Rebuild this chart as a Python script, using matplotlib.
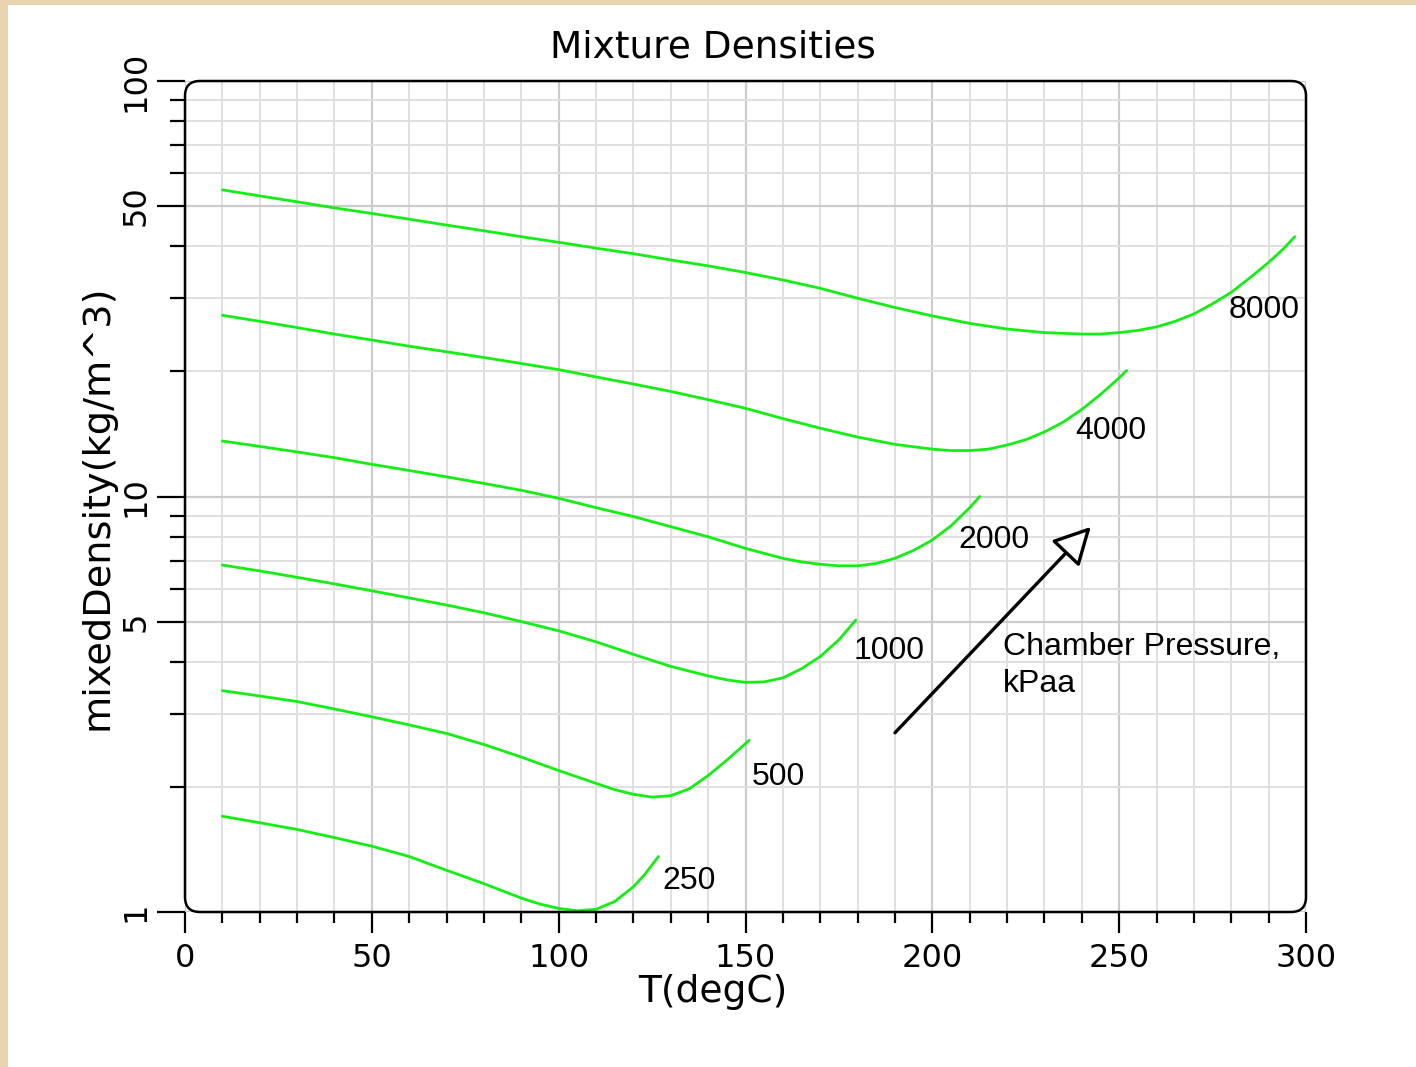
import matplotlib
matplotlib.use("Agg")
import matplotlib.pyplot as plt
from matplotlib.patches import FancyBboxPatch, Rectangle
from matplotlib.ticker import FixedLocator, NullFormatter, FixedFormatter

# ---- data ----
x_8000 = [10, 20, 30, 40, 50, 60, 70, 80, 90, 100, 110, 120, 130, 140, 150, 160, 170, 180, 190, 200,
          210, 220, 230, 240, 245, 250, 255, 260, 265, 270, 275, 280, 285, 290, 294, 297]
y_8000 = [54.7, 52.9, 51.2, 49.5, 48.0, 46.5, 45.0, 43.6, 42.2, 40.9, 39.6, 38.4, 37.1, 35.9, 34.6,
          33.2, 31.7, 30.0, 28.5, 27.2, 26.1, 25.3, 24.8, 24.6, 24.6, 24.8, 25.1, 25.6, 26.4, 27.5,
          29.1, 31.0, 33.6, 36.6, 39.5, 42.2]

x_4000 = [10, 20, 30, 40, 50, 60, 70, 80, 90, 100, 110, 120, 130, 140, 150, 160, 170, 180, 190, 200,
          205, 210, 215, 220, 225, 230, 235, 240, 245, 250, 252]
y_4000 = [27.3, 26.4, 25.5, 24.6, 23.8, 23.0, 22.3, 21.6, 20.9, 20.2, 19.4, 18.65, 17.9, 17.1, 16.3,
          15.4, 14.6, 13.9, 13.35, 13.0, 12.9, 12.9, 13.0, 13.3, 13.7, 14.3, 15.1, 16.2, 17.6, 19.3, 20.1]

x_2000 = [10, 20, 30, 40, 50, 60, 70, 80, 90, 100, 110, 120, 130, 140, 150, 160, 165, 170, 175, 180,
          185, 190, 195, 200, 205, 210, 212.7]
y_2000 = [13.6, 13.2, 12.8, 12.4, 11.95, 11.55, 11.15, 10.75, 10.35, 9.9, 9.4, 8.95, 8.46, 8.0, 7.5,
          7.1, 6.96, 6.87, 6.81, 6.81, 6.9, 7.1, 7.42, 7.86, 8.5, 9.4, 10.0]

x_1000 = [10, 20, 30, 40, 50, 60, 70, 80, 90, 100, 110, 120, 130, 140, 145, 150, 155, 160, 165, 170,
          175, 179.5]
y_1000 = [6.84, 6.62, 6.39, 6.16, 5.93, 5.70, 5.48, 5.25, 5.0, 4.75, 4.47, 4.17, 3.9, 3.70, 3.62,
          3.57, 3.58, 3.66, 3.85, 4.12, 4.52, 5.04]

x_500 = [10, 20, 30, 40, 50, 60, 70, 80, 90, 100, 110, 115, 120, 125, 130, 135, 140, 145, 151]
y_500 = [3.41, 3.31, 3.21, 3.08, 2.95, 2.82, 2.69, 2.53, 2.36, 2.19, 2.04, 1.97, 1.92, 1.89, 1.905,
         1.98, 2.13, 2.32, 2.59]

x_250 = [10, 20, 30, 40, 50, 60, 70, 80, 90, 95, 100, 105, 110, 115, 120, 123, 126.7]
y_250 = [1.70, 1.64, 1.58, 1.51, 1.44, 1.36, 1.26, 1.17, 1.08, 1.045, 1.02, 1.007, 1.015, 1.06,
         1.15, 1.23, 1.36]

series_labels = ["8000", "4000", "2000", "1000", "500", "250"]
label_x = [288.7, 247.8, 216.5, 188.4, 158.7, 134.9]
label_y = [28.1, 14.4, 7.86, 4.25, 2.11, 1.19]

x_ticks = [0, 50, 100, 150, 200, 250, 300]
x_ticklabels = ["0", "50", "100", "150", "200", "250", "300"]
y_ticks = [1, 5, 10, 50, 100]
y_ticklabels = ["1", "5", "10", "50", "100"]
y_minor = [2, 3, 4, 6, 7, 8, 9, 20, 30, 40, 60, 70, 80, 90]
x_minor = [10, 20, 30, 40, 60, 70, 80, 90, 110, 120, 130, 140, 160, 170, 180, 190,
           210, 220, 230, 240, 260, 270, 280, 290]

arrow_start = (190, 2.70)
arrow_end = (242.4, 8.45)
note_text = "Chamber Pressure,\nkPaa"
note_pos = (218.9, 4.72)

# ---- figure ----
W, H, DPI = 1416, 1067, 100
fig = plt.figure(figsize=(W / DPI, H / DPI), dpi=DPI, facecolor="white")

# beige frame strips (left and top)
fig.patches.append(Rectangle((0, 0), 8 / W, 1, transform=fig.transFigure,
                             facecolor="#E8D4AE", edgecolor="none", zorder=0))
fig.patches.append(Rectangle((0, 1 - 5 / H), 1, 5 / H, transform=fig.transFigure,
                             facecolor="#E8D4AE", edgecolor="none", zorder=0))

L, R, B, T = 185, 1306, 912, 81
ax = fig.add_axes([L / W, (H - B) / H, (R - L) / W, (B - T) / H])
ax.set_yscale("log")
ax.set_xlim(0, 300)
ax.set_ylim(1, 100)

green = "#14EE14"
for xs, ys in [(x_8000, y_8000), (x_4000, y_4000), (x_2000, y_2000),
               (x_1000, y_1000), (x_500, y_500), (x_250, y_250)]:
    ax.plot(xs, ys, color=green, lw=2.0, zorder=3, solid_capstyle="round",
            solid_joinstyle="round")

for lab, lx, ly in zip(series_labels, label_x, label_y):
    ax.text(lx, ly, lab, ha="center", va="center", fontsize=23,
            family="Liberation Sans", color="black", zorder=4)

ax.annotate("", xy=arrow_end, xytext=arrow_start,
            arrowprops=dict(arrowstyle="-|>,head_length=1.15,head_width=0.6",
                            mutation_scale=20, lw=2.4, edgecolor="black",
                            facecolor="white", shrinkA=0, shrinkB=0),
            zorder=4)
ax.text(note_pos[0], note_pos[1], note_text, ha="left", va="top", fontsize=23,
        family="Liberation Sans", color="black", linespacing=1.3, zorder=4)

# ticks
ax.xaxis.set_major_locator(FixedLocator(x_ticks))
ax.xaxis.set_major_formatter(FixedFormatter(x_ticklabels))
ax.xaxis.set_minor_locator(FixedLocator(x_minor))
ax.xaxis.set_minor_formatter(NullFormatter())
ax.yaxis.set_major_locator(FixedLocator(y_ticks))
ax.yaxis.set_major_formatter(FixedFormatter(y_ticklabels))
ax.yaxis.set_minor_locator(FixedLocator(y_minor))
ax.yaxis.set_minor_formatter(NullFormatter())

ax.tick_params(axis="x", which="major", direction="out", length=15, width=1.6,
               labelsize=23, pad=7, color="black")
ax.tick_params(axis="x", which="minor", direction="out", length=8, width=1.6, color="black")
ax.tick_params(axis="y", which="major", direction="out", length=20, width=1.6,
               labelsize=23, pad=4, color="black")
ax.tick_params(axis="y", which="minor", direction="out", length=11, width=1.6, color="black")
for lbl in ax.get_yticklabels():
    lbl.set_rotation(90)
    lbl.set_va("center")

# grid
ax.grid(which="major", color="#cccccc", lw=1.6, zorder=1)
ax.grid(which="minor", color="#e0e0e0", lw=1.4, zorder=1)
ax.set_axisbelow(True)

for s in ax.spines.values():
    s.set_visible(False)

# rounded frame
frame = FancyBboxPatch((L / DPI, (H - B) / DPI), (R - L) / DPI, (B - T) / DPI,
                       boxstyle="round,pad=0,rounding_size=0.15",
                       transform=fig.dpi_scale_trans, facecolor="none",
                       edgecolor="black", lw=1.8, zorder=5, clip_on=False)
ax.add_patch(frame)

ax.set_title("Mixture Densities", fontsize=27, pad=17, x=0.471)
ax.set_xlabel("T(degC)", fontsize=27)
ax.xaxis.set_label_coords(0.471, -0.075)
ax.xaxis.label.set_va("top")
ax.set_ylabel("mixedDensity(kg/m^3)", fontsize=27.5, va="center", ha="center")
ax.yaxis.set_label_coords(-0.0785, 0.487)

fig.savefig("out.png", dpi=DPI, facecolor="white")
